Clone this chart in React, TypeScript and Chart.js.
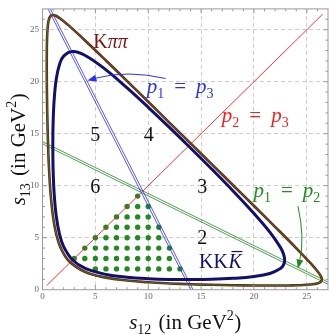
import React, { useEffect, useRef } from "react";
import { Chart, registerables } from "chart.js";
Chart.register(...registerables);

// ---- axis ----
const AXIS_MIN = 0;
const AXIS_MAX = 27;
const TICK_LABELS = [0, 5, 10, 15, 20, 25];

// ---- K pi pi Dalitz boundary (s12, s13 in GeV^2) ----
const kpipiS12 = [0.401, 0.41, 0.42, 0.45, 0.5, 0.55, 0.6, 0.75, 1.0, 1.3, 1.7, 2.5, 4, 6, 8, 10, 12, 14, 16, 18, 20, 21.66, 23.18, 23.74, 24.63, 25.34, 25.72, 25.96, 26.3, 26.42, 26.32, 26.06, 25.39, 23.99, 22.04, 20.06, 18.07, 16.07, 14.08, 12, 10, 8, 6, 4, 2.5, 1.7, 1.3, 1.0, 0.75, 0.6, 0.55, 0.5, 0.45, 0.42, 0.41, 0.401];
const kpipiS13 = [21.66, 19.8, 18.86, 16.95, 14.81, 13.24, 12.0, 9.43, 6.98, 5.34, 4.07, 2.76, 1.73, 1.16, 0.88, 0.71, 0.6, 0.52, 0.47, 0.43, 0.41, 0.401, 0.41, 0.42, 0.45, 0.5, 0.55, 0.6, 0.75, 1.0, 1.3, 1.7, 2.5, 4.0, 6.0, 8.0, 10.0, 12.0, 14.0, 16.07, 18.07, 20.06, 22.04, 23.99, 25.39, 26.06, 26.32, 26.42, 26.3, 25.96, 25.72, 25.34, 24.63, 23.74, 23.18, 21.66];

// ---- K K Kbar Dalitz boundary ----
const kkkS12 = [0.975, 1.0, 1.1, 1.3, 1.6, 2.0, 2.85, 4, 6, 8, 10, 12, 13.81, 16, 18, 20, 21.5, 22.5, 22.8, 22.9, 22.8, 22.5, 21.5, 20, 18, 16, 14, 12, 10, 8, 6, 4, 2.85, 2.0, 1.6, 1.3, 1.1, 1.0, 0.975];
const kkkS13 = [13.81, 11.7, 9.28, 7.08, 5.38, 4.14, 2.85, 2.07, 1.47, 1.2, 1.06, 0.99, 0.975, 1.0, 1.09, 1.27, 1.56, 2.03, 2.4, 2.85, 3.41, 4.07, 5.54, 7.33, 9.52, 11.6, 13.63, 15.61, 17.54, 19.4, 21.14, 22.54, 22.9, 22.46, 21.63, 20.23, 18.22, 15.9, 13.81];

// ---- symmetry lines (end points) ----
const lineEnds = [0, 27];
const p1p2LowS13 = [14.02, 0.52];
const p1p2HighS13 = [14.24, 0.74];
const p1p3LowS12 = [14.02, 0.52];
const p1p3HighS12 = [14.24, 0.74];
const p2p3Ends = [0.4, 26.5];

// ---- green lattice points ----
const dotS12 = [5, 6, 7, 8, 9, 10, 11, 12, 13, 3, 4, 5, 6, 7, 8, 9, 10, 11, 12, 4, 5, 6, 7, 8, 9, 10, 11, 12, 5, 6, 7, 8, 9, 10, 11, 6, 7, 8, 9, 10, 11, 7, 8, 9, 10, 8, 9, 10, 9];
const dotS13 = [2, 2, 2, 2, 2, 2, 2, 2, 2, 3, 3, 3, 3, 3, 3, 3, 3, 3, 3, 4, 4, 4, 4, 4, 4, 4, 4, 4, 5, 5, 5, 5, 5, 5, 5, 6, 6, 6, 6, 6, 6, 7, 7, 7, 7, 8, 8, 8, 9];

const SERIF = '"Liberation Serif", "Times New Roman", serif';
const NAVY = "#101070";
const DARKRED = "#7d1414";
const GREEN = "#1e8c1e";
const BLUE = "#2d2dff";
const RED = "#ff1a1a";

type Part = { t: string; size: number; italic?: boolean; dy?: number; dx?: number };

function fontOf(p: Part) {
  return `${p.italic ? "italic " : ""}${p.size}px ${SERIF}`;
}
function richWidth(ctx: CanvasRenderingContext2D, parts: Part[]) {
  let w = 0;
  for (const p of parts) {
    ctx.font = fontOf(p);
    w += (p.dx || 0) + ctx.measureText(p.t).width;
  }
  return w;
}
function drawRich(ctx: CanvasRenderingContext2D, x: number, y: number, parts: Part[], color: string) {
  ctx.fillStyle = color;
  ctx.textAlign = "left";
  ctx.textBaseline = "alphabetic";
  let cx = x;
  const spans: { x0: number; x1: number }[] = [];
  for (const p of parts) {
    cx += p.dx || 0;
    ctx.font = fontOf(p);
    ctx.fillText(p.t, cx, y + (p.dy || 0));
    const w = ctx.measureText(p.t).width;
    spans.push({ x0: cx, x1: cx + w });
    cx += w;
  }
  return spans;
}

function arrow(ctx: CanvasRenderingContext2D, x0: number, y0: number, cx: number, cy: number, x1: number, y1: number, color: string) {
  ctx.save();
  ctx.strokeStyle = color;
  ctx.fillStyle = color;
  ctx.lineWidth = 1;
  const ang = Math.atan2(y1 - cy, x1 - cx);
  const L = 9, W = 3.5;
  const bx = x1 - L * Math.cos(ang), by = y1 - L * Math.sin(ang);
  ctx.beginPath();
  ctx.moveTo(x0, y0);
  ctx.quadraticCurveTo(cx, cy, bx, by);
  ctx.stroke();
  ctx.beginPath();
  ctx.moveTo(x1, y1);
  ctx.lineTo(bx + W * Math.sin(ang), by - W * Math.cos(ang));
  ctx.lineTo(bx - W * Math.sin(ang), by + W * Math.cos(ang));
  ctx.closePath();
  ctx.fill();
  ctx.restore();
}

const overlay = {
  id: "overlay",
  afterDraw(chart: any) {
    const ctx: CanvasRenderingContext2D = chart.ctx;
    const { left, right, top, bottom } = chart.chartArea;
    const xs = chart.scales.x, ys = chart.scales.y;
    const X = (v: number) => xs.getPixelForValue(v);
    const Y = (v: number) => ys.getPixelForValue(v);
    ctx.save();
    // frame
    ctx.strokeStyle = "#9a9a9a";
    ctx.lineWidth = 1;
    ctx.strokeRect(left, top, right - left, bottom - top);
    // inward tick marks
    ctx.beginPath();
    for (let v = AXIS_MIN + 1; v < AXIS_MAX; v++) {
      const len = v % 5 === 0 ? 4.5 : 2.5;
      const px = X(v), py = Y(v);
      ctx.moveTo(px, bottom); ctx.lineTo(px, bottom - len);
      ctx.moveTo(px, top); ctx.lineTo(px, top + len);
      ctx.moveTo(left, py); ctx.lineTo(left + len, py);
      ctx.moveTo(right, py); ctx.lineTo(right - len, py);
    }
    ctx.stroke();

    // region numbers
    ctx.fillStyle = "#111";
    ctx.font = `20px ${SERIF}`;
    ctx.textAlign = "center";
    ctx.textBaseline = "alphabetic";
    const nums: [string, number, number][] = [["5", 5, 14.3], ["4", 10.05, 14.3], ["6", 5, 9.34], ["3", 15.1, 9.34], ["2", 15.1, 4.35]];
    for (const [t, a, b] of nums) ctx.fillText(t, X(a), Y(b));

    // K pi pi label
    drawRich(ctx, X(4.81), Y(23.24), [{ t: "K", size: 20 }, { t: "ππ", size: 20, italic: true }], DARKRED);

    // p-labels
    const plabel = (a: string, b: string) => [
      { t: "p", size: 21, italic: true },
      { t: a, size: 14, dy: 5 },
      { t: "=", size: 21, dx: 10 },
      { t: "p", size: 21, italic: true, dx: 10 },
      { t: b, size: 14, dy: 5 },
    ];
    drawRich(ctx, X(9.86), Y(18.88), plabel("1", "3"), BLUE);
    drawRich(ctx, X(16.96), Y(16.14), plabel("2", "3"), RED);
    drawRich(ctx, X(19.95), Y(8.92), plabel("1", "2"), GREEN);

    // K K Kbar label
    const sp = drawRich(ctx, X(14.81), Y(2.13), [{ t: "KK", size: 20 }, { t: "K", size: 20, italic: true, dx: 0.5 }], NAVY);
    const last = sp[1];
    ctx.strokeStyle = NAVY;
    ctx.lineWidth = 1.2;
    ctx.beginPath();
    ctx.moveTo(last.x0 + 3, Y(2.13) - 16);
    ctx.lineTo(last.x1 + 0.5, Y(2.13) - 16);
    ctx.stroke();

    // arrows
    arrow(ctx, X(11.64), Y(20.31), X(7.99), Y(21.15), X(4.25), Y(20.12), BLUE);
    arrow(ctx, X(24.16), Y(8.03), X(24.81), Y(5.03), X(24.16), Y(2.03), GREEN);

    // axis titles
    const mkTitle = (sub: string): Part[] => [
      { t: "s", size: 21, italic: true },
      { t: sub, size: 14, dy: 5 },
      { t: " (in GeV", size: 21, dx: 2 },
      { t: "2", size: 14, dy: -9 },
      { t: ")", size: 21, dx: 0.5 },
    ];
    const title = mkTitle("12");
    const w = richWidth(ctx, title);
    drawRich(ctx, (left + right) / 2 - w / 2, 329, title, "#111");
    const ytitle = mkTitle("13");
    const wy = richWidth(ctx, ytitle);
    ctx.save();
    ctx.translate(25, (top + bottom) / 2);
    ctx.rotate(-Math.PI / 2);
    drawRich(ctx, -wy / 2, 0, ytitle, "#111");
    ctx.restore();
    ctx.restore();
  },
};

function pts(xs: number[], ys: number[]) {
  return xs.map((x, i) => ({ x, y: ys[i] }));
}

export default function App() {
  const ref = useRef<HTMLCanvasElement>(null);
  useEffect(() => {
    const canvas = ref.current!;
    const curve = (data: any[], color: string, width: number, order: number, tension = 0.4) => ({
      type: "scatter" as const,
      data,
      showLine: true,
      borderColor: color,
      backgroundColor: color,
      borderWidth: width,
      pointRadius: 0,
      pointHoverRadius: 0,
      tension,
      fill: false,
      order,
    });
    const gridColor = (c: any) => {
      const v = c.tick ? c.tick.value : -1;
      return v % 5 === 0 && v > AXIS_MIN && v < AXIS_MAX ? "#cdcdcd" : "rgba(0,0,0,0)";
    };
    const tickCb = (v: any) => (TICK_LABELS.includes(Number(v)) ? String(v) : "");
    const chart = new Chart(canvas, {
      type: "scatter",
      data: {
        datasets: [
          curve(pts(kkkS12, kkkS13), NAVY, 3, 1),
          curve(pts(kpipiS12, kpipiS13), GREEN, 1, 2),
          curve(pts(kpipiS12, kpipiS13), DARKRED, 2.6, 3),
          curve(pts(p1p3LowS12, lineEnds), BLUE, 0.8, 4, 0),
          curve(pts(p1p3HighS12, lineEnds), BLUE, 0.8, 5, 0),
          curve(pts(lineEnds, p1p2LowS13), GREEN, 0.8, 6, 0),
          curve(pts(lineEnds, p1p2HighS13), GREEN, 0.8, 7, 0),
          curve(pts(p2p3Ends, p2p3Ends), RED, 0.9, 8, 0),
          {
            type: "scatter" as const,
            data: pts(dotS12, dotS13),
            pointRadius: 2.7,
            pointBorderWidth: 0,
            backgroundColor: GREEN,
            borderColor: GREEN,
            showLine: false,
            order: 9,
          },
        ] as any,
      },
      options: {
        responsive: false,
        animation: false,
        devicePixelRatio: 1,
        events: [],
        layout: { padding: { top: 1.5, right: 1, left: 0, bottom: 0 } },
        plugins: { legend: { display: false }, tooltip: { enabled: false } },
        scales: {
          x: {
            type: "linear",
            min: AXIS_MIN,
            max: AXIS_MAX,
            afterFit: (s: any) => { s.height = 44.3; },
            ticks: { stepSize: 1, autoSkip: false, maxRotation: 0, callback: tickCb, color: "#666", padding: 2, font: { family: SERIF, size: 9 } },
            grid: { color: gridColor, drawTicks: false, lineWidth: 1 },
            border: { display: false, dash: [4, 3] },
          },
          y: {
            type: "linear",
            min: AXIS_MIN,
            max: AXIS_MAX,
            afterFit: (s: any) => { s.width = 42.5; },
            ticks: { stepSize: 1, autoSkip: false, callback: tickCb, color: "#666", padding: 3.5, font: { family: SERIF, size: 9 } },
            grid: { color: gridColor, drawTicks: false, lineWidth: 1 },
            border: { display: false, dash: [4, 3] },
          },
        },
      } as any,
      plugins: [overlay],
    });
    return () => chart.destroy();
  }, []);
  return (
    <div style={{ position: "fixed", left: 0, top: 0, width: 332, height: 334, background: "#fff" }}>
      <canvas ref={ref} width={332} height={334} style={{ width: 332, height: 334, display: "block" }} />
    </div>
  );
}
